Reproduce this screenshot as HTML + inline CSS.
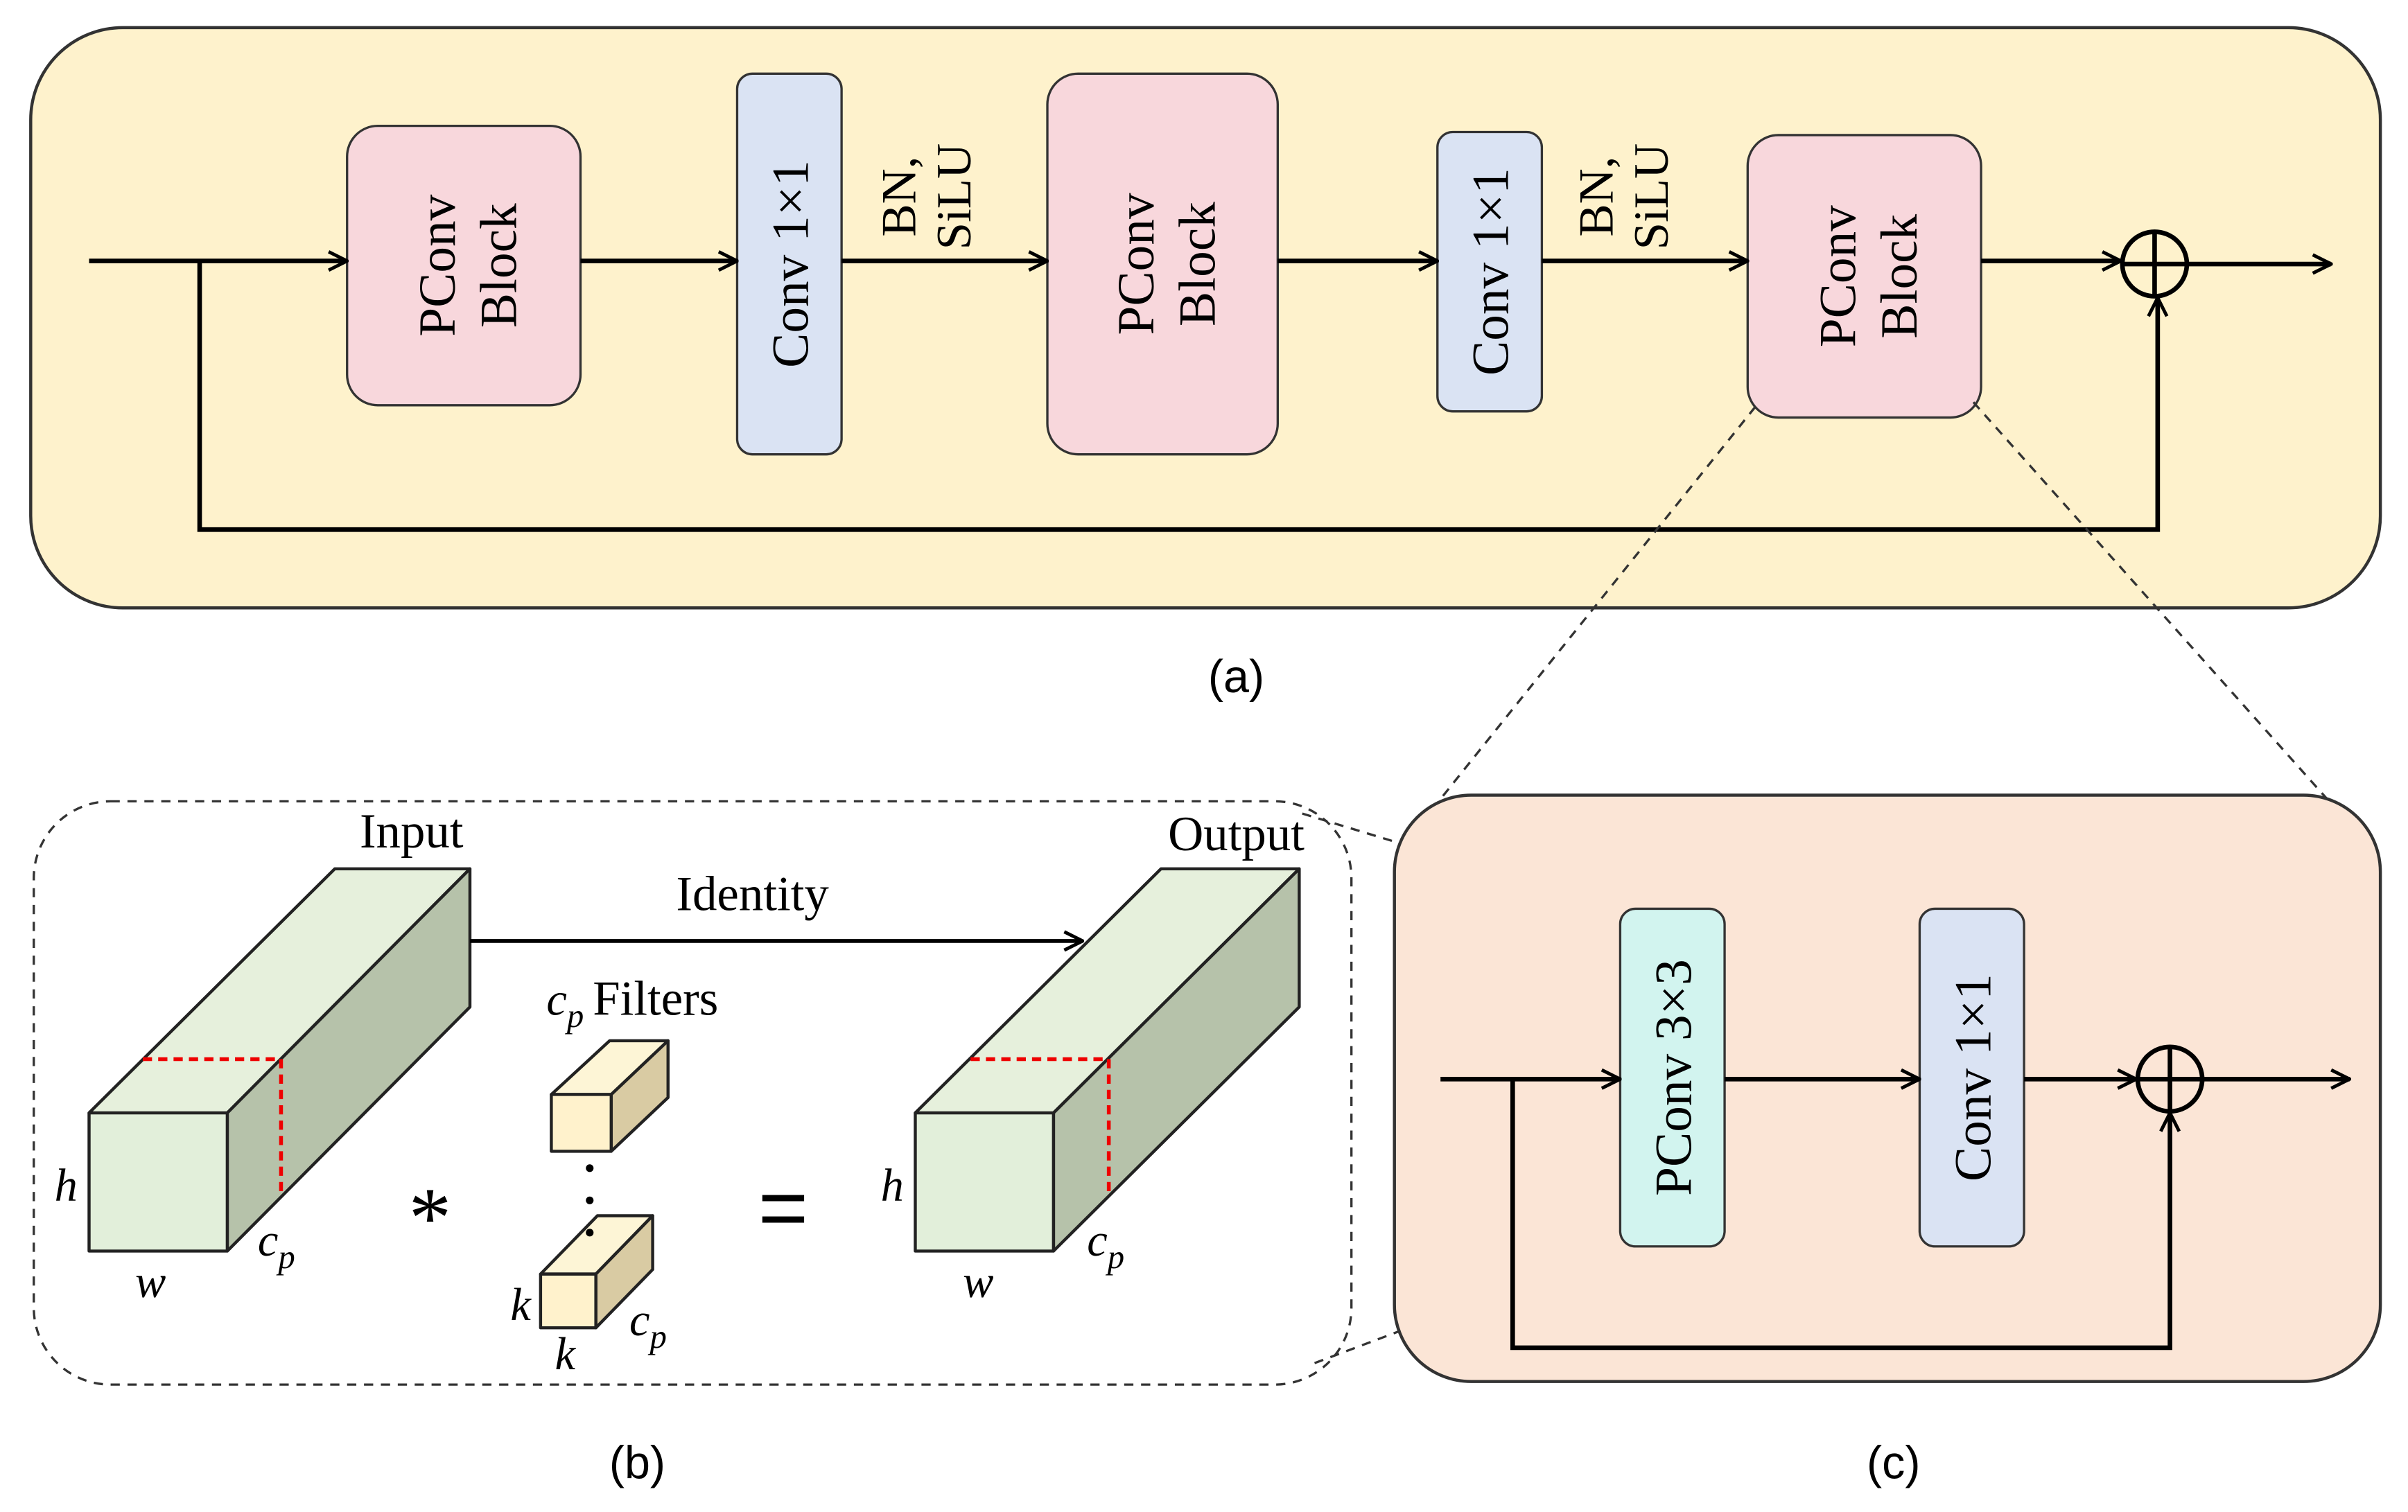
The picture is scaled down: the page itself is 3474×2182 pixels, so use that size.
<!DOCTYPE html>
<html><head><style>html,body{margin:0;padding:0;background:#fff}svg{display:block}</style></head>
<body>
<svg width="3474" height="2182" viewBox="0 0 1568 985" preserveAspectRatio="none" xmlns="http://www.w3.org/2000/svg" font-family="Liberation Serif, serif">
<defs>
<marker id="ar" viewBox="0 0 14 14" refX="13" refY="7" markerWidth="14" markerHeight="14" markerUnits="userSpaceOnUse" orient="auto">
<path d="M1,1 L13,7 L1,13" fill="none" stroke="#000" stroke-width="2.2"/></marker>
</defs>
<rect x="20" y="18" width="1530" height="378" rx="60" fill="#fef2cc" stroke="#333" stroke-width="2"/>
<g stroke="#333" stroke-width="1.5">
<rect x="226" y="82" width="152" height="182" rx="20" fill="#f8d7dc"/>
<rect x="480" y="48" width="68" height="248" rx="10" fill="#dae3f3"/>
<rect x="682" y="48" width="150" height="248" rx="20" fill="#f8d7dc"/>
<rect x="936" y="86" width="68" height="182" rx="10" fill="#dae3f3"/>
<rect x="1138" y="88" width="152" height="184" rx="20" fill="#f8d7dc"/>
</g>
<g stroke="#000" stroke-width="3" fill="none">
<line x1="58" y1="170" x2="226" y2="170" marker-end="url(#ar)"/>
<line x1="378" y1="170" x2="480" y2="170" marker-end="url(#ar)"/>
<line x1="548" y1="170" x2="682" y2="170" marker-end="url(#ar)"/>
<line x1="832" y1="170" x2="936" y2="170" marker-end="url(#ar)"/>
<line x1="1004" y1="170" x2="1138" y2="170" marker-end="url(#ar)"/>
<line x1="1290" y1="170" x2="1381" y2="170" marker-end="url(#ar)"/>
<line x1="1425" y1="172" x2="1518" y2="172" marker-end="url(#ar)"/>
<circle cx="1403" cy="172" r="21"/>
<line x1="1382" y1="172" x2="1424" y2="172"/><line x1="1403" y1="151" x2="1403" y2="193"/>
<polyline points="130,170 130,345 1405,345 1405,194" marker-end="url(#ar)"/>
</g>
<g font-size="34" text-anchor="middle" fill="#000">
<text transform="translate(302,173) rotate(-90)"><tspan x="0" dy="-6">PConv</tspan><tspan x="0" dy="40">Block</tspan></text>
<text transform="translate(757,172) rotate(-90)"><tspan x="0" dy="-6">PConv</tspan><tspan x="0" dy="40">Block</tspan></text>
<text transform="translate(1214,180) rotate(-90)"><tspan x="0" dy="-6">PConv</tspan><tspan x="0" dy="40">Block</tspan></text>
<text transform="translate(526,172) rotate(-90)">Conv 1×1</text>
<text transform="translate(982,177) rotate(-90)">Conv 1×1</text>
<text transform="translate(596,128) rotate(-90)" font-size="32"><tspan x="0" dy="0">BN,</tspan><tspan x="0" dy="36">SiLU</tspan></text>
<text transform="translate(1050,128) rotate(-90)" font-size="32"><tspan x="0" dy="0">BN,</tspan><tspan x="0" dy="36">SiLU</tspan></text>
</g>
<g font-family="Liberation Sans, sans-serif" font-size="30" text-anchor="middle">
<text x="805" y="451">(a)</text><text x="415" y="963">(b)</text><text x="1233" y="963">(c)</text>
</g>
<g stroke="#333" stroke-width="1.5" stroke-dasharray="6,5" fill="none">
<line x1="1143" y1="265" x2="932" y2="528"/>
<line x1="1285" y1="262" x2="1522" y2="528"/>
<line x1="848" y1="530" x2="1058" y2="594"/>
<line x1="856" y1="888" x2="1058" y2="812"/>
<rect x="22" y="522" width="858" height="380" rx="50"/>
</g>
<rect x="908" y="518" width="642" height="382" rx="50" fill="#fbe5d6" stroke="#333" stroke-width="2"/>
<rect x="1055" y="592" width="68" height="220" rx="10" fill="#d2f4ef" stroke="#333" stroke-width="1.5"/>
<rect x="1250" y="592" width="68" height="220" rx="10" fill="#dae3f3" stroke="#333" stroke-width="1.5"/>
<g font-size="34" text-anchor="middle">
<text transform="translate(1101,702) rotate(-90)">PConv 3×3</text>
<text transform="translate(1296,702) rotate(-90)">Conv 1×1</text>
</g>
<g stroke="#000" stroke-width="3" fill="none">
<line x1="938" y1="703" x2="1055" y2="703" marker-end="url(#ar)"/>
<line x1="1123" y1="703" x2="1250" y2="703" marker-end="url(#ar)"/>
<line x1="1318" y1="703" x2="1391" y2="703" marker-end="url(#ar)"/>
<line x1="1435" y1="703" x2="1530" y2="703" marker-end="url(#ar)"/>
<circle cx="1413" cy="703" r="21"/>
<line x1="1392" y1="703" x2="1434" y2="703"/><line x1="1413" y1="682" x2="1413" y2="724"/>
<polyline points="985,703 985,878 1413,878 1413,725" marker-end="url(#ar)"/>
</g>
<g stroke="#222" stroke-width="2" stroke-linejoin="round">
<polygon points="58,725 148,725 306,566 218,566" fill="#e6f0dc"/>
<polygon points="148,725 306,566 306,656 148,815" fill="#b6c2aa"/>
<rect x="58" y="725" width="90" height="90" fill="#e2efda"/>
<polygon points="596,725 686,725 846,566 756,566" fill="#e6f0dc"/>
<polygon points="686,725 846,566 846,656 686,815" fill="#b6c2aa"/>
<rect x="596" y="725" width="90" height="90" fill="#e2efda"/>
<polygon points="359,713 398,713 435,678 397,678" fill="#fdf5d6"/>
<polygon points="398,713 435,678 435,715 398,750" fill="#d9cba3"/>
<rect x="359" y="713" width="39" height="37" fill="#fff2cc"/>
<polygon points="352,830 388,830 425,792 389,792" fill="#fdf5d6"/>
<polygon points="388,830 425,792 425,827 388,865" fill="#d9cba3"/>
<rect x="352" y="830" width="36" height="35" fill="#fff2cc"/>
</g>
<g stroke="#e00" stroke-width="2.5" stroke-dasharray="6,4" fill="none">
<polyline points="93,690 183,690 183,778"/>
<polyline points="632,690 722,690 722,778"/>
</g>
<g fill="#000"><circle cx="384" cy="761" r="2.5"/><circle cx="384" cy="782" r="2.5"/><circle cx="384" cy="803" r="2.5"/></g>
<line x1="306" y1="613" x2="705" y2="613" stroke="#000" stroke-width="2.5" marker-end="url(#ar)"/>
<g font-size="32" text-anchor="middle">
<text x="268" y="552">Input</text>
<text x="805" y="554">Output</text>
<text x="490" y="593">Identity</text>
<text x="386" y="661" text-anchor="start">Filters</text>
<text x="280" y="812" font-size="56">*</text>
<text x="510" y="806" font-size="56" font-family="Liberation Sans, sans-serif">=</text>
</g>
<g font-size="30" font-style="italic" text-anchor="middle">
<text x="43" y="782">h</text><text x="98" y="845">w</text>
<text x="180" y="818">c<tspan font-size="22" dy="8">p</tspan></text>
<text x="581" y="782">h</text><text x="637" y="845">w</text>
<text x="720" y="818">c<tspan font-size="22" dy="8">p</tspan></text>
<text x="368" y="661">c<tspan font-size="22" dy="8">p</tspan></text>
<text x="339" y="860">k</text><text x="368" y="892">k</text>
<text x="422" y="870">c<tspan font-size="22" dy="8">p</tspan></text>
</g>
</svg>
</body></html>
